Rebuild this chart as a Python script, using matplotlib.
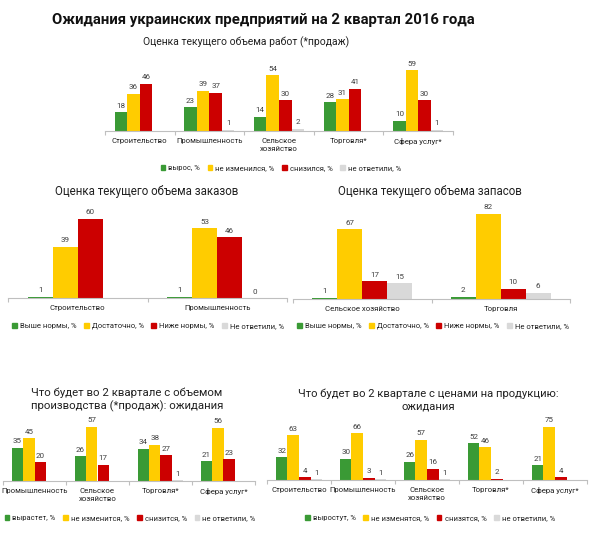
import matplotlib.pyplot as plt
from matplotlib.patches import Patch
import numpy as np

plt.rcParams['font.family'] = ['Roboto', 'DejaVu Sans']

nan = np.nan

# Chart 1: current volume of work
cats1 = ['Строительство', 'Промышленность', 'Сельское\nхозяйство', 'Торговля*', 'Сфера услуг*']
grew1 = [18, 23, 14, 28, 10]
same1 = [36, 39, 54, 31, 59]
fell1 = [46, 37, 30, 41, 30]
none1 = [nan, 1, 2, nan, 1]
leg1 = ['вырос, %', 'не изменился, %', 'снизился, %', 'не ответили, %']

# Chart 2: orders
cats2 = ['Строительство', 'Промышленность']
above2 = [1, 1]
enough2 = [39, 53]
below2 = [60, 46]
none2 = [nan, 0]
leg2 = ['Выше нормы, %', 'Достаточно, %', 'Ниже нормы, %', 'Не ответили, %']

# Chart 3: stocks
cats3 = ['Сельское хозяйство', 'Торговля']
above3 = [1, 2]
enough3 = [67, 82]
below3 = [17, 10]
none3 = [15, 6]

# Chart 4: production expectations
cats4 = ['Промышленность', 'Сельское\nхозяйство', 'Торговля*', 'Сфера услуг*']
grow4 = [35, 26, 34, 21]
same4 = [45, 57, 38, 56]
fall4 = [20, 17, 27, 23]
none4 = [nan, nan, 1, nan]
leg4 = ['вырастет, %', 'не изменится, %', 'снизится, %', 'не ответили, %']

# Chart 5: price expectations
cats5 = ['Строительство', 'Промышленность', 'Сельское\nхозяйство', 'Торговля*', 'Сфера услуг*']
grow5 = [32, 30, 26, 52, 21]
same5 = [63, 66, 57, 46, 75]
fall5 = [4, 3, 16, 2, 4]
none5 = [1, 1, 1, nan, nan]
leg5 = ['выростут, %', 'не изменятся, %', 'снизятся, %', 'не ответили, %']

colors = ['#3a9a35', '#ffcc00', '#cc0000', '#d9d9d9']
W, H = 590, 553

fig = plt.figure(figsize=(W / 100, H / 100), dpi=100)


def panel(left, right, base, scale, cats, series, legend, leg_x, leg_y,
          title=None, title_x=None, title_y=None, title_size=9):
    top = base - 90
    ax = fig.add_axes([left / W, 1 - base / H, (right - left) / W, (base - top) / H])
    ax.set_ylim(0, (base - top) / scale)
    ax.set_xlim(-0.5, len(cats) - 0.5)
    x = np.arange(len(cats))
    width = 0.18
    for k, vals in enumerate(series):
        xs = x + (k - 1.5) * width
        ax.bar(xs, vals, width, color=colors[k])
        for xi, v in zip(xs, vals):
            if not np.isnan(v):
                ax.annotate(f'{v:g}', (xi, v), xytext=(0, 2.5), textcoords='offset points',
                            ha='center', va='bottom', fontsize=5.8, color='#404040')
    for s in ['top', 'right', 'left']:
        ax.spines[s].set_visible(False)
    ax.spines['bottom'].set_color('#bfbfbf')
    ax.set_yticks([])
    ax.set_xticks(np.arange(len(cats) + 1) - 0.5)
    ax.set_xticklabels([])
    ax.tick_params(axis='x', length=3, color='#bfbfbf')
    for xi, c in zip(x, cats):
        ax.text(xi, -0.08, c, transform=ax.get_xaxis_transform(),
                ha='center', va='top', fontsize=5.6, color='#202020', linespacing=1.45)
    handles = [Patch(color=c) for c in colors]
    ax.legend(handles, legend, ncol=4, loc='center', bbox_to_anchor=(leg_x / W, 1 - leg_y / H),
              bbox_transform=fig.transFigure, frameon=False, fontsize=5.5, handlelength=0.6,
              handleheight=0.6, handletextpad=0.4, columnspacing=1.0, labelcolor='#202020')
    if title:
        fig.text(title_x / W, 1 - title_y / H, title, ha='center', va='center',
                 fontsize=title_size, color='#202020', linespacing=1.25)
    return ax


fig.text(263 / W, 1 - 20 / H, 'Ожидания украинских предприятий на 2 квартал 2016 года',
         ha='center', va='center', fontsize=10.7, fontweight='bold', color='#111111')

panel(105, 453, 131, 1.03, cats1, [grew1, same1, fell1, none1], leg1, 281, 168,
      'Оценка текущего объема работ (*продаж)', 246, 42, 7.5)
panel(8, 287, 298, 1.32, cats2, [above2, enough2, below2, none2], leg2, 148, 326,
      'Оценка текущего объема заказов', 147, 191, 8.3)
panel(293, 570, 299, 1.04, cats3, [above3, enough3, below3, none3], leg2, 433, 326,
      'Оценка текущего объема запасов', 430, 191, 8.3)
panel(3, 255, 481, 0.95, cats4, [grow4, same4, fall4, none4], leg4, 130, 518,
      'Что будет во 2 квартале с объемом\nпроизводства (*продаж): ожидания', 127, 400, 8.2)
panel(267, 587, 480, 0.71, cats5, [grow5, same5, fall5, none5], leg5, 430, 518,
      'Что будет во 2 квартале с ценами на продукцию:\nожидания', 428, 400, 8.1)

fig.savefig('out.png', dpi=100)
